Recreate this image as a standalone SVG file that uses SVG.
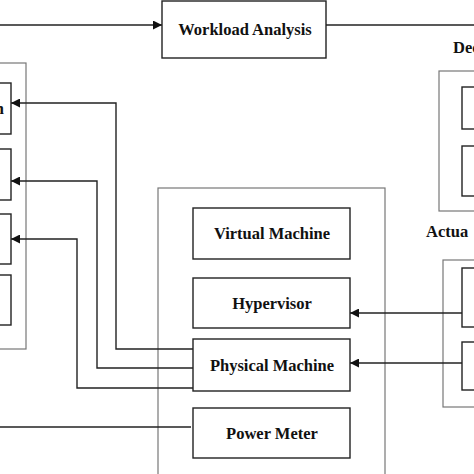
<svg xmlns="http://www.w3.org/2000/svg" width="474" height="474" viewBox="0 0 474 474">
<defs>
<marker id="arr" viewBox="0 0 10 10" refX="10" refY="5" markerWidth="9" markerHeight="9" markerUnits="userSpaceOnUse" orient="auto">
<path d="M0,0 L10,5 L0,10 z" fill="#111"/>
</marker>
<style>
.box{fill:#fff;stroke:#222;stroke-width:1.4}
.cont{fill:none;stroke:#777;stroke-width:1.2}
.ln{fill:none;stroke:#222;stroke-width:1.4}
.t{font-family:"Liberation Serif","Times New Roman",serif;font-weight:bold;font-size:16.5px;fill:#111;text-anchor:middle}
.ts{font-family:"Liberation Serif","Times New Roman",serif;font-weight:bold;font-size:16.5px;fill:#111}
</style>
</defs>
<rect width="474" height="474" fill="#fff"/>
<g id="containers">
<rect id="left-container" class="cont" x="-10" y="63" width="36" height="286"/>
<rect id="middle-container" class="cont" x="158" y="188" width="227" height="300"/>
<rect id="decision-container" class="cont" x="439" y="71" width="50" height="140"/>
<rect id="actuator-container" class="cont" x="443" y="260" width="50" height="147"/>
</g>
<g id="connectors">
<path class="ln" d="M0,25 H162" marker-end="url(#arr)"/>
<path class="ln" d="M326,25 H474"/>
<path class="ln" d="M193,349 H116 V103 H11" marker-end="url(#arr)"/>
<path class="ln" d="M193,368 H97 V181 H11" marker-end="url(#arr)"/>
<path class="ln" d="M193,388 H77 V239 H11" marker-end="url(#arr)"/>
<path class="ln" d="M0,427 H191"/>
<path class="ln" d="M462,313 H350" marker-end="url(#arr)"/>
<path class="ln" d="M462,363 H350" marker-end="url(#arr)"/>
</g>
<g id="workload-analysis">
<rect class="box" x="162" y="1" width="164" height="57"/>
<text class="t" x="245" y="35">Workload Analysis</text>
</g>
<g id="left-box-1">
<rect class="box" x="-20" y="83" width="31" height="51"/>
<text class="ts" x="4" y="114" text-anchor="end">n</text>
</g>
<g id="left-box-2"><rect class="box" x="-20" y="149" width="31" height="51"/></g>
<g id="left-box-3"><rect class="box" x="-20" y="214" width="31" height="50"/></g>
<g id="left-box-4"><rect class="box" x="-20" y="275" width="31" height="50"/></g>
<g id="virtual-machine">
<rect class="box" x="193" y="208" width="157" height="51"/>
<text class="t" x="272" y="239">Virtual Machine</text>
</g>
<g id="hypervisor">
<rect class="box" x="193" y="278" width="157" height="50"/>
<text class="t" x="272" y="309">Hypervisor</text>
</g>
<g id="physical-machine">
<rect class="box" x="193" y="339" width="157" height="52"/>
<text class="t" x="272" y="371">Physical Machine</text>
</g>
<g id="power-meter">
<rect class="box" x="193" y="408" width="157" height="50"/>
<text class="t" x="272" y="439">Power Meter</text>
</g>
<g id="decision">
<text class="ts" x="453" y="53">Dec</text>
<rect class="box" x="462" y="87" width="30" height="42"/>
<rect class="box" x="462" y="146" width="30" height="50"/>
</g>
<g id="actuator">
<text class="ts" x="426" y="237">Actua</text>
<rect class="box" x="462" y="268" width="30" height="59"/>
<rect class="box" x="462" y="342" width="30" height="48"/>
</g>
</svg>
